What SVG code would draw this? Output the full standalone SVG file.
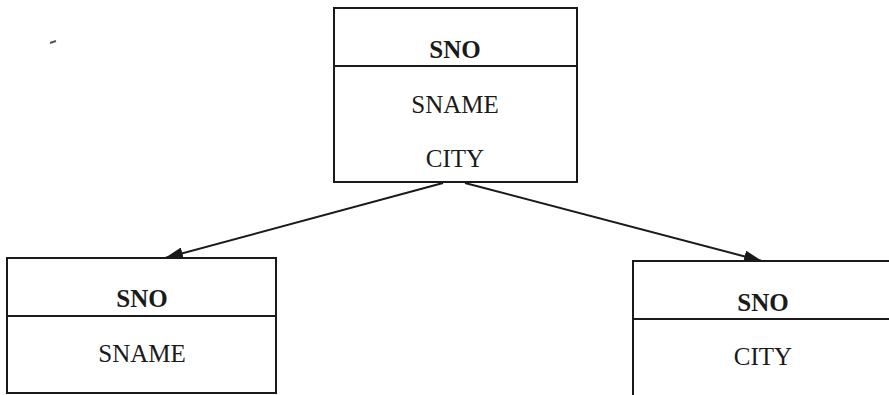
<svg xmlns="http://www.w3.org/2000/svg" width="889" height="395" viewBox="0 0 889 395">
<defs>
<style>
.box{fill:#fff;stroke:#1a1a1a;stroke-width:2}
.div{stroke:#1a1a1a;stroke-width:2}
.t{font-family:"Liberation Serif","Times New Roman",serif;font-size:25px;fill:#1a1a1a;text-anchor:middle}
.b{font-weight:bold}
.con{stroke:#1a1a1a;stroke-width:2;fill:none}
</style>
<marker id="ah" viewBox="0 0 18 12" refX="18" refY="6" markerWidth="18" markerHeight="12" markerUnits="userSpaceOnUse" orient="auto">
<path d="M0,0 L18,6 L0,12 Z" fill="#1a1a1a"/>
</marker>
</defs>
<rect width="889" height="395" fill="#fff"/>
<path d="M50,43 L56,41" stroke="#555" stroke-width="2"/>
<g id="connectors">
<line class="con" x1="443" y1="183" x2="165" y2="258" marker-end="url(#ah)"/>
<line class="con" x1="465" y1="183" x2="762" y2="261" marker-end="url(#ah)"/>
</g>
<g id="supplier">
<rect class="box" x="334" y="8" width="243" height="174"/>
<line class="div" x1="334" y1="66" x2="577" y2="66"/>
<text class="t b" x="455" y="58">SNO</text>
<text class="t" x="455" y="113">SNAME</text>
<text class="t" x="455" y="167">CITY</text>
</g>
<g id="sno-sname">
<rect class="box" x="7" y="258" width="269" height="135"/>
<line class="div" x1="7" y1="316" x2="276" y2="316"/>
<text class="t b" x="142" y="307">SNO</text>
<text class="t" x="142" y="362">SNAME</text>
</g>
<g id="sno-city">
<rect class="box" x="633" y="261" width="262" height="140"/>
<line class="div" x1="633" y1="319" x2="895" y2="319"/>
<text class="t b" x="763" y="311">SNO</text>
<text class="t" x="763" y="365">CITY</text>
</g>
</svg>
